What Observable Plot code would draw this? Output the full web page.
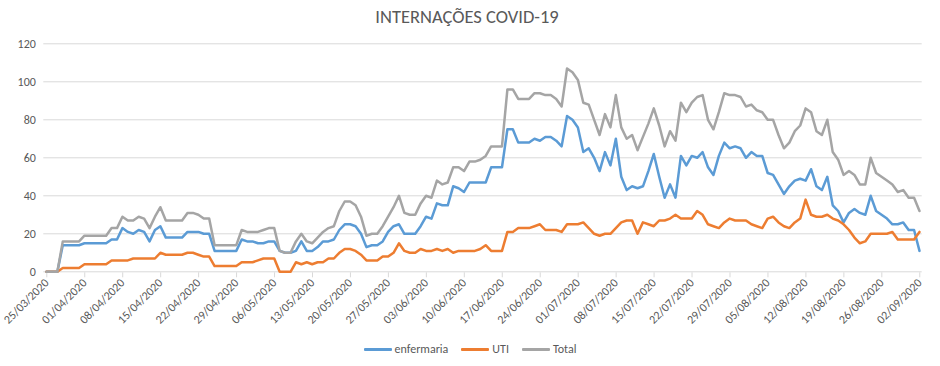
<!DOCTYPE html>
<html><head><meta charset="utf-8">
<script src="https://cdn.jsdelivr.net/npm/d3@7"></script>
<script src="https://cdn.jsdelivr.net/npm/@observablehq/plot@0.6"></script>
<style>
body{margin:0;background:#fff;}
#wrap{position:relative;width:940px;height:366px;font-family:Calibri,Carlito,"Liberation Sans",Arial,sans-serif;color:#595959;overflow:hidden;}
#title{position:absolute;top:5px;left:0;width:934px;text-align:center;font-size:18.5px;}
#chart{position:absolute;top:0;left:0;}
#legend{position:absolute;top:342px;left:0;width:940px;display:flex;justify-content:center;gap:13px;font-size:12px;}
.item{display:flex;align-items:center;gap:3px}
.sw{width:28px;height:3px;border-radius:1px}
[aria-label="x-axis tick"]{stroke:#d9d9d9}
</style>
</head><body>
<div id="wrap">
  <div id="title">INTERNAÇÕES COVID-19</div>
  <div id="chart"></div>
  <div id="legend"></div>
</div>
<script>
const startDate = "2020-03-25";
const seriesNames = ["enfermaria", "UTI", "Total"];
const seriesColors = ["#5B9BD5", "#ED7D31", "#A5A5A5"];
const yTicks = [0, 20, 40, 60, 80, 100, 120];
const xTickLabels = ["25/03/2020","01/04/2020","08/04/2020","15/04/2020","22/04/2020","29/04/2020","06/05/2020","13/05/2020","20/05/2020","27/05/2020","03/06/2020","10/06/2020","17/06/2020","24/06/2020","01/07/2020","08/07/2020","15/07/2020","22/07/2020","29/07/2020","05/08/2020","12/08/2020","19/08/2020","26/08/2020","02/09/2020"];

const enfermaria = [0,0,0,14,14,14,14,15,15,15,15,15,17,17,23,21,20,22,21,16,22,24,18,18,18,18,21,21,21,20,20,11,11,11,11,11,17,16,16,15,15,16,16,11,10,10,11,16,11,11,13,16,16,17,22,25,25,24,20,13,14,14,16,21,24,25,20,20,20,24,29,28,36,35,35,45,44,42,47,47,47,47,55,55,55,75,75,68,68,68,70,69,71,71,69,66,82,80,76,63,65,60,53,63,56,70,50,43,45,44,45,53,62,50,39,46,39,61,56,61,60,63,55,51,61,68,65,66,65,60,63,61,61,52,51,46,41,45,48,49,48,54,45,43,50,35,32,26,31,33,31,30,40,32,30,28,25,25,26,22,22,11];
const uti = [0,0,0,2,2,2,2,4,4,4,4,4,6,6,6,6,7,7,7,7,7,10,9,9,9,9,10,10,9,8,8,3,3,3,3,3,5,5,5,6,7,7,7,0,0,0,5,4,5,4,5,5,7,7,10,12,12,11,9,6,6,6,8,8,10,15,11,10,10,12,11,11,12,11,12,10,11,11,11,11,12,14,11,11,11,21,21,23,23,23,24,25,22,22,22,21,25,25,25,26,23,20,19,20,20,23,26,27,27,20,26,25,24,27,27,28,30,28,28,28,32,30,25,24,23,26,28,27,27,27,25,24,23,28,29,26,24,23,26,28,38,30,29,29,30,28,27,25,22,18,15,16,20,20,20,20,21,17,17,17,17,21];
const total = [0,0,0,16,16,16,16,19,19,19,19,19,23,23,29,27,27,29,28,23,29,34,27,27,27,27,31,31,30,28,28,14,14,14,14,14,22,21,21,21,22,23,23,11,10,10,16,20,16,15,18,21,23,24,32,37,37,35,29,19,20,20,24,29,34,40,31,30,30,36,40,39,48,46,47,55,55,53,58,58,59,61,66,66,66,96,96,91,91,91,94,94,93,93,91,87,107,105,101,89,88,80,72,83,76,93,76,70,72,64,71,78,86,77,66,74,69,89,84,89,92,93,80,75,84,94,93,93,92,87,88,85,84,80,80,72,65,68,74,77,86,84,74,72,80,63,59,51,53,51,46,46,60,52,50,48,46,42,43,39,39,32];

const DAY = 864e5;
const t0 = new Date(startDate + "T00:00:00Z");
const seriesValues = [enfermaria, uti, total];
const rows = [];
seriesNames.forEach((s, k) => seriesValues[k].forEach((v, i) => rows.push({serie: s, date: new Date(+t0 + i * DAY + DAY / 2), value: v})));
const xTicks = xTickLabels.map(s => { const [d, m, y] = s.split("/"); return new Date(Date.UTC(+y, +m - 1, +d)); });
const fmt = d3.utcFormat("%d/%m/%Y");

const chart = Plot.plot({
  width: 940, height: 366,
  marginTop: 43.3, marginBottom: 94.7, marginLeft: 43.3, marginRight: 18.3,
  style: {fontFamily: 'Calibri, Carlito, "Liberation Sans", Arial, sans-serif', fontSize: "12px", color: "#595959", background: "transparent"},
  x: {type: "utc", domain: [t0, new Date(+t0 + enfermaria.length * DAY)], label: null},
  y: {domain: [0, 120], label: null},
  color: {domain: seriesNames, range: seriesColors},
  marks: [
    Plot.gridY(yTicks, {stroke: "#d9d9d9", strokeOpacity: 1}),
    Plot.axisY(yTicks, {tickSize: 0, tickPadding: 8, fill: "#595959"}),
    Plot.axisX(xTicks, {tickRotate: -45, tickSize: 5, tickPadding: 3, dx: 3, dy: 1, tickFormat: fmt, fill: "#595959", stroke: "#d9d9d9"}),
    Plot.lineY(rows, {x: "date", y: "value", z: "serie", stroke: "serie", strokeWidth: 2.5})
  ]
});
document.getElementById("chart").appendChild(chart);

const legend = document.getElementById("legend");
seriesNames.forEach((s, k) => {
  const it = document.createElement("div"); it.className = "item";
  const sw = document.createElement("span"); sw.className = "sw"; sw.style.background = seriesColors[k];
  const tx = document.createElement("span"); tx.textContent = s;
  it.appendChild(sw); it.appendChild(tx); legend.appendChild(it);
});
</script>
</body></html>
